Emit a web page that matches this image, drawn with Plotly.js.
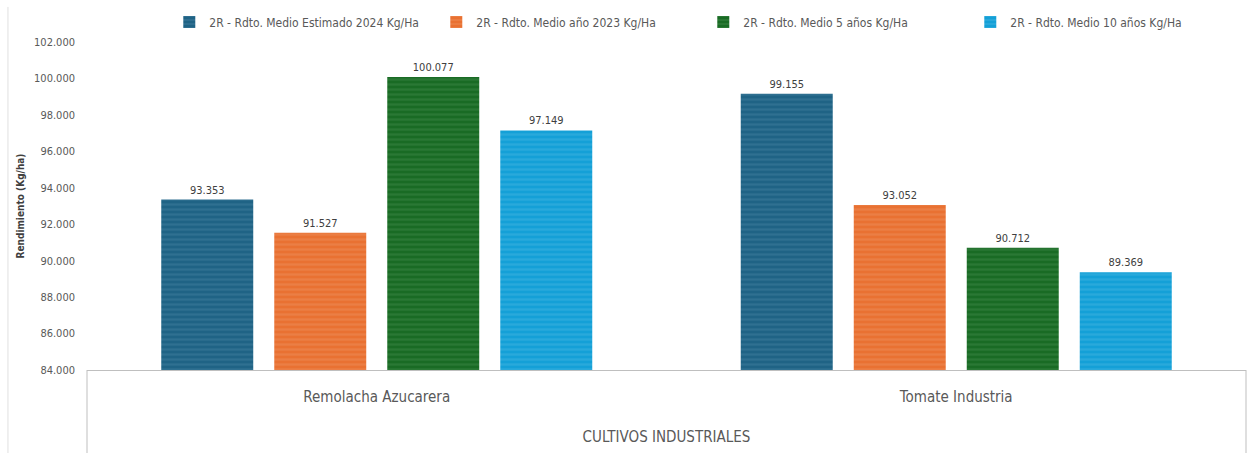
<!DOCTYPE html>
<html>
<head>
<meta charset="utf-8">
<script src="https://cdn.plot.ly/plotly-3.0.1.min.js"></script>
<style>html,body{margin:0;padding:0;background:#fff;}#chart{width:1251px;height:453px;}</style>
</head>
<body>
<div id="chart"></div>
<script>
const categories = ["Remolacha Azucarera", "Tomate Industria"];
const seriesNames = [
  "2R - Rdto. Medio Estimado 2024 Kg/Ha",
  "2R - Rdto. Medio año 2023 Kg/Ha",
  "2R - Rdto. Medio 5 años Kg/Ha",
  "2R - Rdto. Medio 10 años Kg/Ha"
];
const est2024 = [93353, 99155];
const anio2023 = [91527, 93052];
const medio5 = [100077, 90712];
const medio10 = [97149, 89369];
const yTickVals = [84000, 86000, 88000, 90000, 92000, 94000, 96000, 98000, 100000, 102000];

const FONT = "'Liberation Sans Narrow', 'DejaVu Sans Condensed', Roboto, sans-serif";
const baseColors = ["#1f6385", "#e97132", "#196b24", "#14a0d7"];
const stripeColors = ["#3f7d9d", "#ee8c57", "#3b8544", "#3eb2e0"];
const values = [est2024, anio2023, medio5, medio10];

const traces = values.map((v, i) => ({
  type: 'bar',
  name: seriesNames[i],
  x: categories,
  y: v,
  marker: {
    color: baseColors[i],
    pattern: {shape: '-', fgcolor: stripeColors[i], bgcolor: baseColors[i], size: 5, solidity: 0.45, fillmode: 'overlay'},
    line: {width: 0}
  },
  texttemplate: '%{y:,d}',
  textposition: 'outside',
  cliponaxis: false,
  textfont: {family: FONT, size: 11, color: '#404040'},
  hoverinfo: 'skip'
}));

const gray = '#bfbfbf';
const layout = {
  width: 1251, height: 453,
  margin: {l: 87, r: 5, t: 42, b: 83, autoexpand: false},
  paper_bgcolor: '#ffffff', plot_bgcolor: '#ffffff',
  separators: ',.',
  barmode: 'group',
  bargap: 0.22,
  bargroupgap: 0.186,
  font: {family: FONT, color: '#595959'},
  showlegend: true,
  legend: {
    orientation: 'h', x: 0.071, xanchor: 'left', y: 1.061, yanchor: 'middle',
    font: {family: FONT, size: 12, color: '#595959'},
    traceorder: 'normal', entrywidth: 222, entrywidthmode: 'pixels'
  },
  xaxis: {
    type: 'category',
    showline: true, linecolor: gray, linewidth: 1,
    showgrid: false, zeroline: false, ticks: '',
    tickfont: {family: FONT, size: 15, color: '#595959'},
    ticklabelstandoff: 13,
    title: {text: 'CULTIVOS INDUSTRIALES', font: {family: FONT, size: 15, color: '#595959'}, standoff: 26}
  },
  yaxis: {
    range: [84000, 102000],
    tickvals: yTickVals,
    tickformat: ',d',
    showgrid: false, zeroline: false, showline: false, ticks: '',
    tickfont: {family: FONT, size: 11, color: '#595959'},
    ticklabelstandoff: 11,
    title: {text: '<b>Rendimiento (Kg/ha)</b>', font: {family: FONT, size: 10, color: '#404040'}, standoff: 7}
  },
  shapes: [
    {type: 'line', xref: 'paper', yref: 'paper', x0: 0, x1: 0, y0: 0, y1: -0.3, line: {color: gray, width: 1}},
    {type: 'line', xref: 'paper', yref: 'paper', x0: 1, x1: 1, y0: 0, y1: -0.3, line: {color: gray, width: 1}},
    {type: 'line', xref: 'paper', yref: 'paper', x0: -0.0682, x1: -0.0682, y0: 1.107, y1: -0.3, line: {color: '#e0e0e0', width: 1}}
  ]
};

Plotly.newPlot('chart', traces, layout, {displayModeBar: false, staticPlot: true});
</script>
</body>
</html>
